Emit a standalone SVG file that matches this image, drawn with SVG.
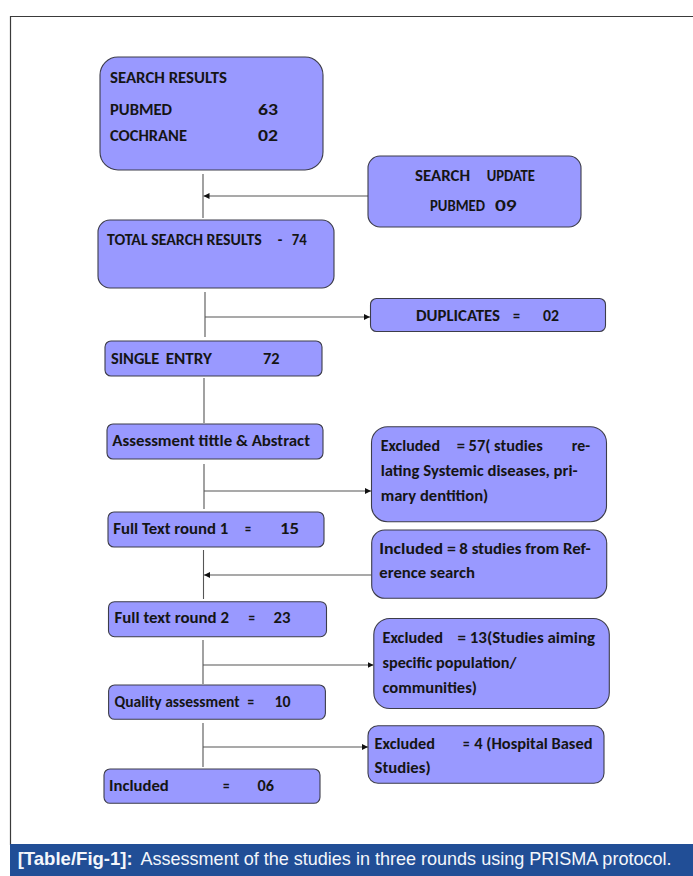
<svg xmlns="http://www.w3.org/2000/svg" width="693" height="876" viewBox="0 0 693 876">
<defs>
<style>
.box{fill:#9999ff;stroke:#3d3d4a;stroke-width:1.1}
.t{font-family:Carlito,Lato,"Liberation Sans",sans-serif;font-weight:bold;font-size:16.5px;fill:#151515}
.c{stroke:#555;stroke-width:1.1;fill:none}
.cap{font-family:"Liberation Sans",Arial,sans-serif;font-size:18.5px;fill:#f4f6fb}
</style>
<marker id="ah" markerUnits="userSpaceOnUse" markerWidth="7" markerHeight="6" refX="6" refY="3" orient="auto">
<path d="M0,0 L6,3 L0,6 Z" fill="#111"/>
</marker>
</defs>
<rect width="693" height="876" fill="#fff"/>
<path d="M10.5,845 V16.5 H693" fill="none" stroke="#3a3a3a" stroke-width="1.2"/>
<rect x="10" y="844" width="683" height="32" fill="#214e96"/>
<text class="cap" x="17.7" y="865" font-weight="bold" textLength="115" lengthAdjust="spacingAndGlyphs">[Table/Fig-1]:</text>
<text class="cap" x="140.5" y="865" textLength="531" lengthAdjust="spacingAndGlyphs">Assessment of the studies in three rounds using PRISMA protocol.</text>

<g id="connectors">
<path class="c" d="M203,174 V218"/>
<path class="c" d="M368,196 H203.5" marker-end="url(#ah)"/>
<path class="c" d="M205,292 V337"/>
<path class="c" d="M205,317 H370" marker-end="url(#ah)"/>
<path class="c" d="M204,378 V423"/>
<path class="c" d="M204,464 V509"/>
<path class="c" d="M204,491 H371" marker-end="url(#ah)"/>
<path class="c" d="M203.5,550 V599"/>
<path class="c" d="M371.5,575 H204" marker-end="url(#ah)"/>
<path class="c" d="M203,640 V684"/>
<path class="c" d="M203,665 H373.5" marker-end="url(#ah)"/>
<path class="c" d="M203,723 V767"/>
<path class="c" d="M203,747 H368" marker-end="url(#ah)"/>
</g>

<g id="n1">
<rect class="box" x="100" y="57" width="223" height="113" rx="18"/>
<text class="t" x="110" y="82.5" textLength="117" lengthAdjust="spacingAndGlyphs">SEARCH RESULTS</text>
<text class="t" x="110" y="115" textLength="62" lengthAdjust="spacingAndGlyphs">PUBMED</text>
<text class="t" x="258" y="115" textLength="20" lengthAdjust="spacingAndGlyphs">63</text>
<text class="t" x="110" y="141" textLength="77" lengthAdjust="spacingAndGlyphs">COCHRANE</text>
<text class="t" x="258" y="141" textLength="20" lengthAdjust="spacingAndGlyphs">02</text>
</g>

<g id="n2">
<rect class="box" x="368" y="156" width="213" height="71" rx="12"/>
<text class="t" x="415" y="180.5" textLength="55" lengthAdjust="spacingAndGlyphs">SEARCH</text>
<text class="t" x="486.7" y="180.5" textLength="48.3" lengthAdjust="spacingAndGlyphs">UPDATE</text>
<text class="t" x="430" y="210.5" textLength="55" lengthAdjust="spacingAndGlyphs">PUBMED</text>
<text class="t" x="495" y="210.5" textLength="21.7" lengthAdjust="spacingAndGlyphs">09</text>
</g>

<g id="n3">
<rect class="box" x="98" y="220" width="236" height="68" rx="12"/>
<text class="t" x="107" y="244.5" textLength="154.7" lengthAdjust="spacingAndGlyphs">TOTAL SEARCH RESULTS</text>
<text class="t" x="277.7" y="244.5" textLength="4.6" lengthAdjust="spacingAndGlyphs">-</text>
<text class="t" x="291.7" y="244.5" textLength="15" lengthAdjust="spacingAndGlyphs">74</text>
</g>

<g id="n4">
<rect class="box" x="370.5" y="298.5" width="235" height="33" rx="6"/>
<text class="t" x="416" y="321" textLength="84" lengthAdjust="spacingAndGlyphs">DUPLICATES</text>
<text class="t" x="513" y="321" textLength="7" lengthAdjust="spacingAndGlyphs">=</text>
<text class="t" x="543" y="321" textLength="16" lengthAdjust="spacingAndGlyphs">02</text>
</g>

<g id="n5">
<rect class="box" x="105" y="341" width="217" height="35" rx="6"/>
<text class="t" x="111" y="363.5" textLength="48.3" lengthAdjust="spacingAndGlyphs">SINGLE</text>
<text class="t" x="165.7" y="363.5" textLength="46.3" lengthAdjust="spacingAndGlyphs">ENTRY</text>
<text class="t" x="263" y="363.5" textLength="16.6" lengthAdjust="spacingAndGlyphs">72</text>
</g>

<g id="n6">
<rect class="box" x="107" y="424" width="216" height="35" rx="6"/>
<text class="t" x="112.3" y="446" textLength="197.7" lengthAdjust="spacingAndGlyphs">Assessment tittle &amp; Abstract</text>
</g>

<g id="n7">
<rect class="box" x="108" y="512" width="216" height="35" rx="6"/>
<text class="t" x="113.3" y="533.5" textLength="115" lengthAdjust="spacingAndGlyphs">Full Text round 1</text>
<text class="t" x="245" y="533.5" textLength="6" lengthAdjust="spacingAndGlyphs">=</text>
<text class="t" x="280" y="533.5" textLength="19" lengthAdjust="spacingAndGlyphs">15</text>
</g>

<g id="n8">
<rect class="box" x="371.5" y="426.7" width="235" height="95" rx="16"/>
<text class="t" x="380.7" y="450.5" textLength="59.3" lengthAdjust="spacingAndGlyphs">Excluded</text>
<text class="t" x="456.7" y="450.5" textLength="86" lengthAdjust="spacingAndGlyphs">= 57( studies</text>
<text class="t" x="571.7" y="450.5" textLength="18.3" lengthAdjust="spacingAndGlyphs">re-</text>
<text class="t" x="380.7" y="475.5" textLength="197" lengthAdjust="spacingAndGlyphs">lating Systemic diseases, pri-</text>
<text class="t" x="380.7" y="500.5" textLength="107.6" lengthAdjust="spacingAndGlyphs">mary dentition)</text>
</g>

<g id="n9">
<rect class="box" x="371.7" y="530" width="235" height="68.3" rx="13"/>
<text class="t" x="379.3" y="553.5" textLength="76.7" lengthAdjust="spacingAndGlyphs">Included =</text>
<text class="t" x="459.3" y="553.5" textLength="131.4" lengthAdjust="spacingAndGlyphs">8 studies from Ref-</text>
<text class="t" x="379.3" y="577.5" textLength="95.7" lengthAdjust="spacingAndGlyphs">erence search</text>
</g>

<g id="n10">
<rect class="box" x="108.5" y="601.7" width="218" height="35" rx="6"/>
<text class="t" x="114.6" y="623" textLength="114.4" lengthAdjust="spacingAndGlyphs">Full text round 2</text>
<text class="t" x="248.6" y="623" textLength="6.4" lengthAdjust="spacingAndGlyphs">=</text>
<text class="t" x="273.6" y="623" textLength="17" lengthAdjust="spacingAndGlyphs">23</text>
</g>

<g id="n11">
<rect class="box" x="373.8" y="618.5" width="235.5" height="90" rx="16"/>
<text class="t" x="382.5" y="643" textLength="60.5" lengthAdjust="spacingAndGlyphs">Excluded</text>
<text class="t" x="457.5" y="643" textLength="137.5" lengthAdjust="spacingAndGlyphs">= 13(Studies aiming</text>
<text class="t" x="382.5" y="668" textLength="134" lengthAdjust="spacingAndGlyphs">specific population/</text>
<text class="t" x="382.5" y="693" textLength="94.5" lengthAdjust="spacingAndGlyphs">communities)</text>
</g>

<g id="n12">
<rect class="box" x="108.6" y="685" width="216.8" height="34.3" rx="6"/>
<text class="t" x="114.6" y="706.5" textLength="125" lengthAdjust="spacingAndGlyphs">Quality assessment</text>
<text class="t" x="247.5" y="706.5" textLength="6.5" lengthAdjust="spacingAndGlyphs">=</text>
<text class="t" x="274.6" y="706.5" textLength="16" lengthAdjust="spacingAndGlyphs">10</text>
</g>

<g id="n13">
<rect class="box" x="368" y="725.8" width="236" height="57.5" rx="10"/>
<text class="t" x="374.6" y="748.5" textLength="60.4" lengthAdjust="spacingAndGlyphs">Excluded</text>
<text class="t" x="462.9" y="748.5" textLength="6.5" lengthAdjust="spacingAndGlyphs">=</text>
<text class="t" x="474.3" y="748.5" textLength="118.2" lengthAdjust="spacingAndGlyphs">4 (Hospital Based</text>
<text class="t" x="374.6" y="773.2" textLength="56" lengthAdjust="spacingAndGlyphs">Studies)</text>
</g>

<g id="n14">
<rect class="box" x="104" y="769" width="216" height="34.3" rx="6"/>
<text class="t" x="109" y="791" textLength="59.8" lengthAdjust="spacingAndGlyphs">Included</text>
<text class="t" x="223" y="791" textLength="6.5" lengthAdjust="spacingAndGlyphs">=</text>
<text class="t" x="257.6" y="791" textLength="16.4" lengthAdjust="spacingAndGlyphs">06</text>
</g>
</svg>
